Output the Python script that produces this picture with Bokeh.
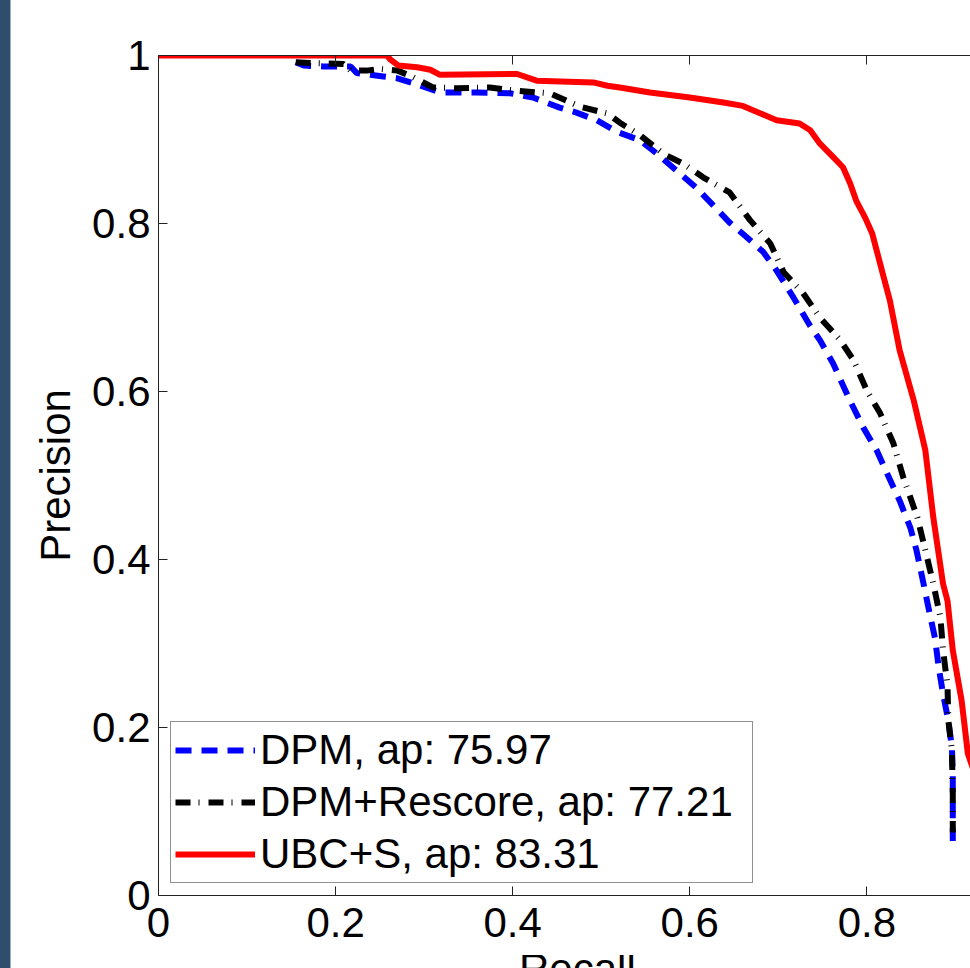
from bokeh.plotting import figure
from bokeh.models import Legend, LegendItem, FixedTicker, LinearAxis, Div, Range1d
from bokeh.layouts import row, column
from bokeh.embed import file_html
from bokeh.resources import INLINE

# ---- data ----
dpm_recall = [0.155, 0.164, 0.186, 0.217, 0.224, 0.254, 0.269, 0.288, 0.318, 0.359, 0.397,
              0.423, 0.453, 0.472, 0.495, 0.518, 0.544, 0.563, 0.585, 0.608, 0.627, 0.645,
              0.664, 0.683, 0.698, 0.717, 0.736, 0.747, 0.762, 0.781, 0.796, 0.811, 0.823,
              0.837, 0.849, 0.856, 0.864, 0.871, 0.877, 0.881, 0.886, 0.892, 0.896, 0.897, 0.897]
dpm_precision = [0.992, 0.988, 0.987, 0.987, 0.979, 0.975, 0.973, 0.967, 0.956, 0.956, 0.955,
                 0.950, 0.938, 0.932, 0.923, 0.909, 0.899, 0.883, 0.863, 0.842, 0.821, 0.801,
                 0.784, 0.766, 0.744, 0.712, 0.678, 0.661, 0.633, 0.589, 0.557, 0.530, 0.502,
                 0.470, 0.438, 0.411, 0.371, 0.335, 0.306, 0.272, 0.240, 0.208, 0.176, 0.145, 0.065]

rescore_recall = [0.155, 0.171, 0.209, 0.217, 0.235, 0.250, 0.270, 0.284, 0.310, 0.337, 0.374,
                  0.405, 0.442, 0.476, 0.507, 0.521, 0.544, 0.570, 0.593, 0.615, 0.645, 0.668,
                  0.691, 0.706, 0.728, 0.747, 0.770, 0.785, 0.800, 0.815, 0.830, 0.841, 0.857,
                  0.866, 0.875, 0.883, 0.886, 0.891, 0.892, 0.896, 0.897, 0.897]
rescore_precision = [0.992, 0.991, 0.990, 0.982, 0.982, 0.984, 0.982, 0.976, 0.962, 0.961, 0.962,
                     0.958, 0.955, 0.939, 0.931, 0.920, 0.905, 0.883, 0.871, 0.855, 0.837, 0.804,
                     0.776, 0.742, 0.717, 0.688, 0.661, 0.637, 0.601, 0.574, 0.538, 0.498, 0.450,
                     0.411, 0.371, 0.331, 0.292, 0.250, 0.208, 0.173, 0.121, 0.075]

ubc_recall = [0.0, 0.258, 0.262, 0.271, 0.292, 0.307, 0.318, 0.405, 0.427, 0.491, 0.507,
              0.521, 0.555, 0.600, 0.638, 0.660, 0.680, 0.698, 0.724, 0.736, 0.747, 0.762,
              0.773, 0.781, 0.788, 0.798, 0.806, 0.811, 0.818, 0.826, 0.837, 0.853, 0.866,
              0.875, 0.886, 0.891, 0.897, 0.907, 0.914, 0.930]
ubc_precision = [1.0, 1.0, 0.995, 0.988, 0.986, 0.983, 0.977, 0.978, 0.970, 0.968, 0.964,
                 0.962, 0.956, 0.950, 0.944, 0.940, 0.931, 0.923, 0.919, 0.911, 0.895, 0.879,
                 0.867, 0.848, 0.827, 0.807, 0.788, 0.768, 0.740, 0.708, 0.649, 0.589, 0.530,
                 0.450, 0.371, 0.351, 0.292, 0.232, 0.169, 0.120]

series_labels = ["DPM, ap: 75.97", "DPM+Rescore, ap: 77.21", "UBC+S, ap: 83.31"]
tick_values = [0, 0.2, 0.4, 0.6, 0.8, 1]
tick_labels = ["0", "0.2", "0.4", "0.6", "0.8", "1"]
x_title = "Recall"
y_title = "Precision"

FONT = "Liberation Sans"
FS = "42px"

p = figure(width=959, height=955, x_range=Range1d(0, 0.917), y_range=Range1d(0, 1),
           output_backend="svg", toolbar_location=None,
           min_border_left=147, min_border_right=0, min_border_top=55, min_border_bottom=60)
p.outline_line_color = None
p.xgrid.visible = False
p.ygrid.visible = False
p.background_fill_color = "white"
p.border_fill_color = "white"

overrides = {v: s for v, s in zip(tick_values, tick_labels)}

for ax in (p.xaxis[0], p.yaxis[0]):
    ax.ticker = FixedTicker(ticks=tick_values)
    ax.major_label_overrides = overrides
    ax.major_tick_in = 9
    ax.major_tick_out = 0
    ax.minor_tick_line_color = None
    ax.axis_line_color = "#222222"
    ax.major_tick_line_color = "#222222"
    ax.major_label_text_font = FONT
    ax.major_label_text_font_size = FS
    ax.major_label_text_color = "black"
p.yaxis[0].major_label_standoff = 8
p.xaxis[0].major_label_standoff = 12

p.yaxis[0].axis_label = y_title
p.yaxis[0].axis_label_text_font = FONT
p.yaxis[0].axis_label_text_font_size = FS
p.yaxis[0].axis_label_text_font_style = "normal"
p.yaxis[0].axis_label_text_color = "black"
p.yaxis[0].axis_label_standoff = 10

top = LinearAxis(ticker=FixedTicker(ticks=tick_values), major_tick_in=9, major_tick_out=0,
                 minor_tick_line_color=None, axis_line_color="#222222",
                 major_tick_line_color="#222222", major_label_text_font_size="1px",
                 major_label_text_color=None, major_label_standoff=0)
p.add_layout(top, "above")

r1 = p.line(dpm_recall, dpm_precision, line_color="#0000ff", line_width=6, line_dash="16 10")
r2 = p.line(rescore_recall, rescore_precision, line_color="black", line_width=6,
            line_dash="15 8 1 9")
r3 = p.line(ubc_recall, ubc_precision, line_color="#ff0000", line_width=6)

legend = Legend(items=[LegendItem(label=series_labels[0], renderers=[r1]),
                       LegendItem(label=series_labels[1], renderers=[r2]),
                       LegendItem(label=series_labels[2], renderers=[r3])],
                location=(12, 12), margin=0, padding=4, spacing=4,
                glyph_width=80, glyph_height=20, label_standoff=5, label_width=488,
                label_text_font=FONT, label_text_font_size=FS, label_text_color="black",
                border_line_color="#222222", border_line_width=1,
                background_fill_color="white", background_fill_alpha=1.0)
p.add_layout(legend)

recall_div = Div(
    text=('<span style="position:absolute; left:508px; top:-7px; white-space:nowrap; '
          'font-family:\'Liberation Sans\'; font-size:42px; line-height:42px; color:black;">'
          + x_title + '</span>'),
    width=959, height=13, margin=0,
    styles={"overflow": "hidden", "position": "relative", "background-color": "white"})

strip = Div(width=11, height=968, margin=0,
            styles={"background": "linear-gradient(to right, #2f4e6e 0px, #2f4e6e 10px, "
                                  "#9fb0c2 10px, #9fb0c2 11px)"})

layout = row(strip, column(p, recall_div, spacing=0), spacing=0)

open("out.html", "w").write(file_html(layout, INLINE))
